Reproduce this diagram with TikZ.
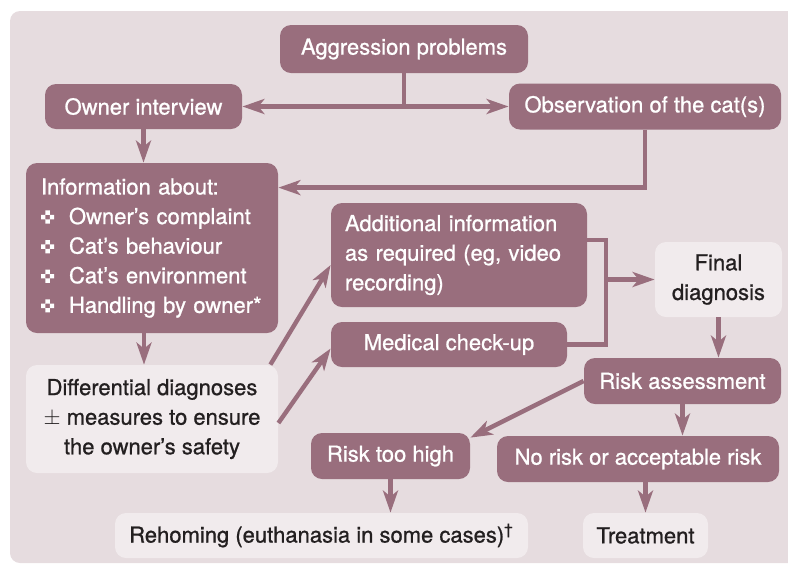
\documentclass[tikz,border=0pt]{standalone}
\usepackage{fontspec}
\setmainfont{TeX Gyre Heros}[FakeBold=0.9]
\usepackage{tikz}
\usetikzlibrary{arrows.meta,calc,positioning}
\definecolor{panel}{HTML}{E6DCDF}
\definecolor{mauve}{HTML}{996E7D}
\definecolor{pale}{HTML}{F1EBED}
\definecolor{ink}{HTML}{231F20}
\newcommand{\catmark}{\tikz[x=1.1pt,y=1.1pt,baseline=-3.5pt,sharp corners]{\fill[white] (-1,1) rectangle (1,3) (-3,-1) rectangle (-1,1) (1,-1) rectangle (3,1) (-1,-3) rectangle (1,-1);}\hspace{7.4pt}}

\begin{document}
\begin{tikzpicture}[x=0.5pt,y=-0.5pt,
  box/.style={fill=mauve,text=white,rounded corners=5.5pt,inner sep=0pt,align=center,font=\fontsize{11pt}{14.8pt}\selectfont},
  lightbox/.style={box,fill=pale,text=ink},
  link/.style={draw=mauve,line width=2.2pt},
  arrow/.style={link,-{Stealth[length=11pt,width=7.5pt,inset=3pt]}}]
\useasboundingbox (0,0) rectangle (788,564);
\fill[panel,rounded corners=5pt] (10,11) rectangle (810,563);
% boxes
\node[box,minimum width=124pt,minimum height=24pt] (aggr) at (404,49) {Aggression problems};
\node[box,minimum width=98.5pt,minimum height=22.5pt] (owner) at (143.5,106.5) {Owner interview};
\node[box,minimum width=136pt,minimum height=23pt] (obs) at (645,106.5) {Observation of the cat(s)};
\node[box,align=left,text width=111pt,inner xsep=7.5pt,minimum height=85pt] (info) at (152,248) {Information about:\\
  \catmark Owner’s complaint\\
  \catmark Cat’s behaviour\\
  \catmark Cat’s environment\\
  \catmark Handling by owner*};
\node[lightbox,minimum width=126pt,minimum height=54pt] (diff) at (152,419) {Differential diagnoses\\ $\pm$ measures to ensure\\ the owner’s safety};
\node[box,align=left,text width=114pt,inner xsep=7pt,minimum height=52pt] (more) at (459,255) {Additional information\\ as required (eg, video\\ recording)};
\node[box,minimum width=118pt,minimum height=22.5pt] (check) at (449,344.5) {Medical check-up};
\node[lightbox,minimum width=63.5pt,minimum height=37.5pt] (final) at (718.5,279.5) {Final\\ diagnosis};
\node[box,minimum width=98.5pt,minimum height=23pt] (assess) at (682.5,381) {Risk assessment};
\node[box,minimum width=141pt,minimum height=23pt] (accept) at (638,459) {No risk or acceptable risk};
\node[box,minimum width=79.5pt,minimum height=23pt] (high) at (390.5,456) {Risk too high};
\node[lightbox,minimum width=206.5pt,minimum height=22.5pt] (rehome) at (321.5,535.5) {Rehoming (euthanasia in some cases)\textsuperscript{†}};
\node[lightbox,minimum width=62.5pt,minimum height=22.5pt] (treat) at (645.5,535.5) {Treatment};
% connectors
\coordinate (split) at (aggr.south |- owner.east);
\draw[link] (aggr.south) -- (split);
\draw[arrow] (split) -- (owner.east);
\draw[arrow] (split) -- (obs.west);
\draw[arrow] (obs.south) |- ([yshift=-12.5pt]info.north east);
\draw[arrow] (owner.south) -- (owner.south |- info.north);
\draw[arrow] ([xshift=-4pt]info.south) -- ([xshift=-4pt]diff.north);
\draw[arrow] ([xshift=-4pt]diff.north east) -- ([yshift=-5pt]more.west);
\draw[arrow] ([yshift=-2pt]diff.east) -- ([yshift=-2pt]check.west);
\coordinate (join) at (606,279.5);
\draw[link] ([yshift=7.5pt]more.east) -| (join) |- (check.east);
\draw[arrow] (join) -- (final.west);
\draw[arrow] (final.south) -- (final.south |- assess.north);
\draw[arrow] (assess.west) -- ([yshift=-2.5pt]high.north east);
\draw[arrow] (assess.south) -- (assess.south |- accept.north);
\draw[arrow] (high.south) -- (high.south |- rehome.north);
\draw[arrow] (treat.north |- accept.south) -- (treat.north);
\end{tikzpicture}
\end{document}
